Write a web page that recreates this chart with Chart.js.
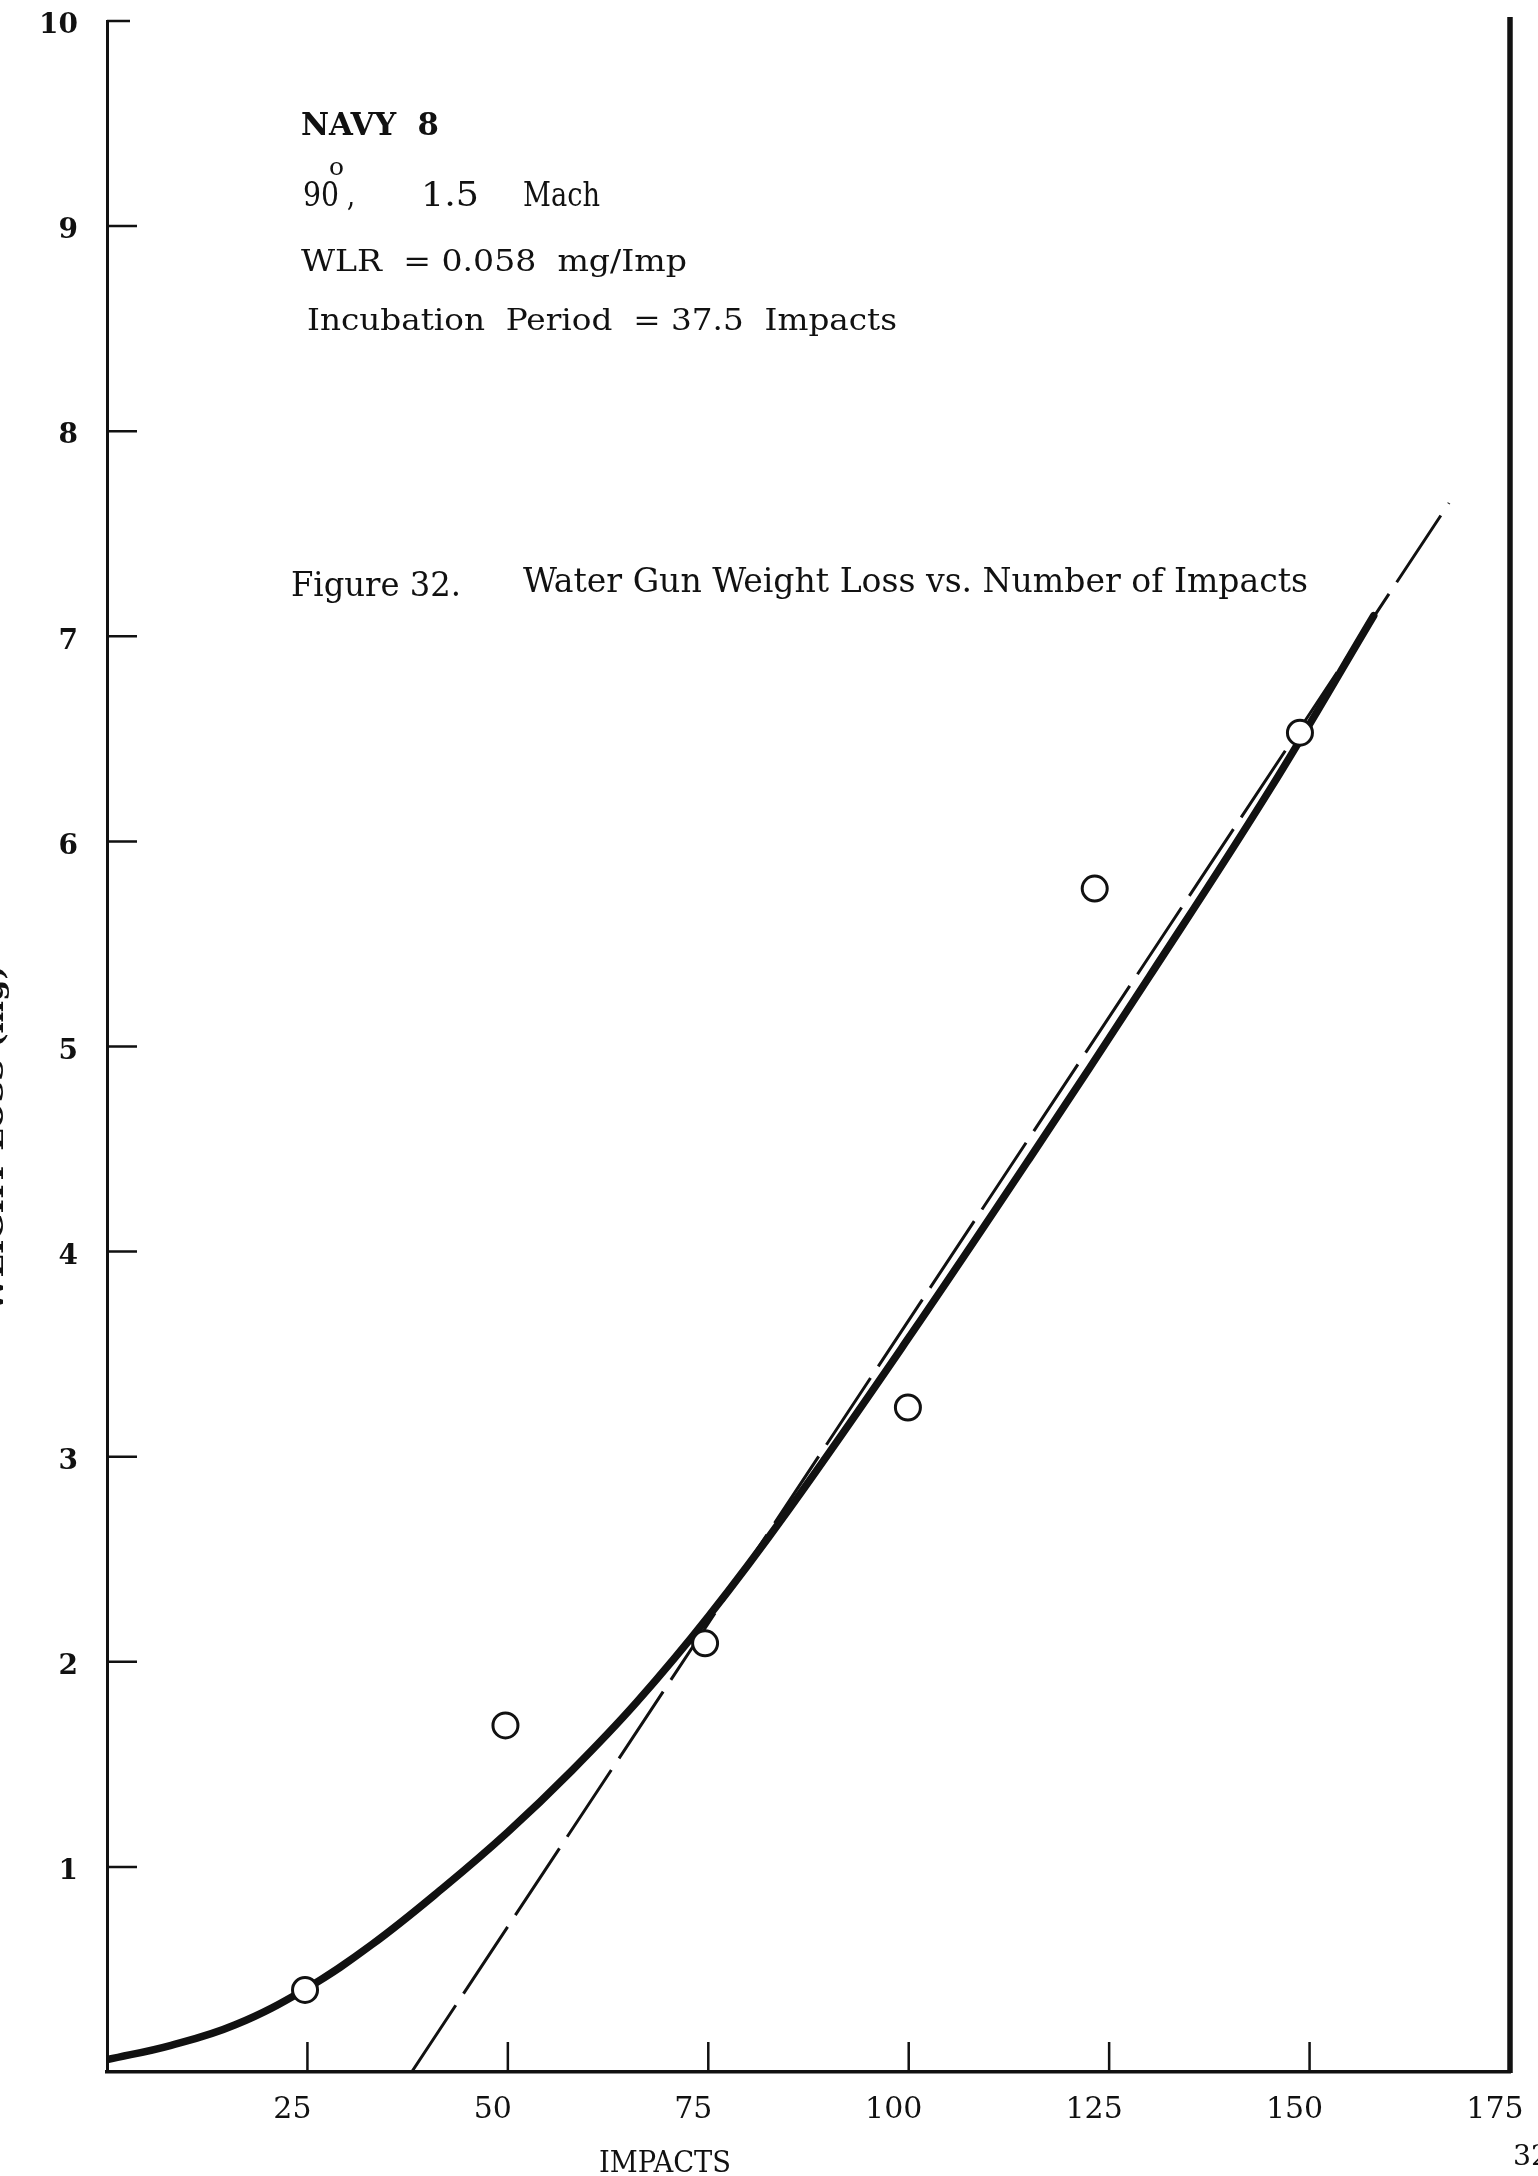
<!DOCTYPE html>
<html><head><meta charset="utf-8">
<script src="https://cdn.jsdelivr.net/npm/chart.js@4.4.1/dist/chart.umd.min.js"></script>
<style>html,body{margin:0;padding:0;background:#fff;}canvas{display:block;}</style>
</head><body>
<canvas id="c" width="1538" height="2176"></canvas>
<script>
// ---- data ----
const impacts = [24.7, 49.7, 74.6, 99.9, 123.2, 148.8];
const weightLoss = [0.40, 1.69, 2.09, 3.24, 5.77, 6.53];
const curveImpacts = [0, 8, 16, 25, 33, 42, 50, 58, 66, 75, 85, 100, 115, 130, 145, 158];
const curveLoss = [0.06, 0.13, 0.23, 0.41, 0.62, 0.90, 1.17, 1.47, 1.80, 2.22, 2.74, 3.58, 4.45, 5.34, 6.25, 7.10];
const rateLineImpacts = [38, 167.4];
const rateLineLoss = [0, 7.65];
const xTickValues = [25, 50, 75, 100, 125, 150, 175];
const yTickValues = [1, 2, 3, 4, 5, 6, 7, 8, 9, 10];
const xTitle = 'IMPACTS';
const yTitle = 'WEIGHT LOSS (mg)';
const specimen = 'NAVY  8';
const condAngle = '90', condDeg = 'o', condComma = ',', condMach = '1.5', condUnit = 'Mach';
const wlrText = 'WLR  = 0.058  mg/Imp';
const incubationText = 'Incubation  Period  = 37.5  Impacts';
const figLabel = 'Figure 32.';
const figTitle = 'Water Gun Weight Loss vs. Number of Impacts';
const pageNumber = '32';

const INK = '#111';
const toXY = (xs, ys) => xs.map((v, i) => ({x: v, y: ys[i]}));

function fitText(ctx, text, x, y, font, width) {
  ctx.save();
  ctx.font = font;
  const w = ctx.measureText(text).width;
  ctx.translate(x, y);
  if (width) ctx.scale(width / w, 1);
  ctx.textAlign = 'left';
  ctx.textBaseline = 'alphabetic';
  ctx.fillText(text, 0, 0);
  ctx.restore();
}

const paper = {
  id: 'paper',
  beforeDatasetsDraw(chart) {
    const {ctx, chartArea: a, scales: {x, y}} = chart;
    ctx.save();
    ctx.strokeStyle = INK;
    ctx.lineCap = 'butt';
    ctx.lineWidth = 2.5;
    ctx.beginPath();
    xTickValues.forEach(v => {
      if (v >= x.max) return;
      const px = x.getPixelForValue(v);
      ctx.moveTo(px, a.bottom); ctx.lineTo(px, a.bottom - 30);
    });
    yTickValues.forEach(v => {
      const py = y.getPixelForValue(v);
      const len = v === y.max ? 23 : 30;
      ctx.moveTo(a.left, py); ctx.lineTo(a.left + len, py);
    });
    ctx.stroke();
    // right-hand frame line
    ctx.lineWidth = 5.5;
    ctx.beginPath();
    ctx.moveTo(a.right, a.top - 4); ctx.lineTo(a.right, a.bottom + 1);
    ctx.stroke();
    ctx.restore();
  },
  afterDraw(chart) {
    const {ctx} = chart;
    ctx.save();
    ctx.fillStyle = INK;
    const cond = "33px 'DejaVu Serif'";
    fitText(ctx, specimen, 301, 135, "bold 31px 'DejaVu Serif Condensed', 'DejaVu Serif'", 138);
    fitText(ctx, condAngle, 303, 206, cond, 36);
    fitText(ctx, condDeg, 329, 175, "24px 'DejaVu Serif'", 15);
    fitText(ctx, condComma, 347, 206, cond, 8);
    fitText(ctx, condMach, 421, 206, cond, 58);
    fitText(ctx, condUnit, 523, 206, cond, 77);
    fitText(ctx, wlrText, 301, 271, "29px 'DejaVu Serif'", 386);
    fitText(ctx, incubationText, 307, 330, "29px 'DejaVu Serif'", 590);
    fitText(ctx, figLabel, 291, 596, "33px 'DejaVu Serif Condensed', 'DejaVu Serif'", 170);
    fitText(ctx, figTitle, 523, 592, "33px 'DejaVu Serif Condensed', 'DejaVu Serif'", 785);
    fitText(ctx, xTitle, 599, 2172, "30px 'DejaVu Serif Condensed', 'DejaVu Serif'", 132);
    fitText(ctx, pageNumber, 1513, 2165, "28px 'DejaVu Serif'", 36);
    // y-axis title, mostly cut off by the page edge
    ctx.save();
    ctx.translate(3, 1312);
    ctx.rotate(-Math.PI / 2);
    fitText(ctx, yTitle, 0, 0, "bold 30px 'DejaVu Serif'", 347);
    ctx.restore();
    ctx.restore();
  }
};

new Chart(document.getElementById('c'), {
  type: 'scatter',
  data: {
    datasets: [
      {
        label: 'Measured',
        data: toXY(impacts, weightLoss),
        pointStyle: 'circle',
        pointRadius: 12.5,
        pointBorderWidth: 3,
        pointBackgroundColor: '#fff',
        pointBorderColor: INK,
        showLine: false
      },
      {
        label: 'Weight loss curve',
        data: toXY(curveImpacts, curveLoss),
        showLine: true,
        borderColor: INK,
        borderWidth: 7.5,
        pointRadius: 0,
        tension: 0.4,
        borderCapStyle: 'round'
      },
      {
        label: 'WLR line',
        data: toXY(rateLineImpacts, rateLineLoss),
        showLine: true,
        borderColor: INK,
        borderWidth: 3,
        borderDash: [80, 14],
        pointRadius: 0
      }
    ]
  },
  options: {
    responsive: false,
    animation: false,
    events: [],
    layout: {padding: {top: 21, right: 28, left: 0, bottom: 0}},
    plugins: {legend: {display: false}, tooltip: {enabled: false}},
    scales: {
      x: {
        type: 'linear', min: 0, max: 175,
        afterBuildTicks: s => { s.ticks = xTickValues.map(v => ({value: v})); },
        afterFit: s => { s.height = 104; s.paddingLeft = 0; s.paddingRight = 0; },
        grid: {display: false, drawTicks: false},
        border: {display: true, color: INK, width: 3.5},
        ticks: {
          color: INK, padding: 20, labelOffset: -15, maxRotation: 0, autoSkip: false,
          font: {family: "'DejaVu Serif'", size: 30}
        }
      },
      y: {
        type: 'linear', min: 0, max: 10,
        afterBuildTicks: s => { s.ticks = yTickValues.map(v => ({value: v})); },
        afterFit: s => { s.width = 107; s.paddingTop = 0; s.paddingBottom = 0; },
        grid: {display: false, drawTicks: false},
        border: {display: true, color: INK, width: 3},
        ticks: {
          color: INK, padding: 29, labelOffset: 5, autoSkip: false,
          font: {family: "'DejaVu Serif'", size: 28, weight: 'bold'}
        }
      }
    }
  },
  plugins: [paper]
});
</script>
</body></html>
